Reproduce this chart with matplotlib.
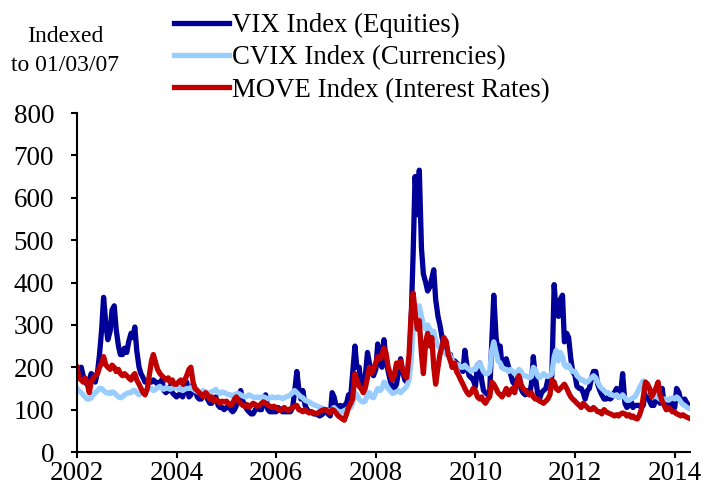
import matplotlib
matplotlib.use("Agg")
import matplotlib.pyplot as plt
import pandas as pd

# Semi-monthly observations, Jan 2002 - Apr 2014 (indexed to 01/03/07 = 100)
dates = pd.date_range("2002-01-01", periods=296, freq="SMS")

vix = [
    180,195, 200,180, 165,160, 170,185, 180,165, 190,230, 290,365, 300,265, 285,335, 345,290, 250,230, 230,245,  # 2002
    235,260, 280,270, 295,240, 200,185, 175,165, 165,165, 165,170, 165,160, 165,170, 145,140, 145,155, 140,135,  # 2003
    130,135, 135,130, 150,165, 130,135, 160,150, 130,125, 125,135, 140,125, 115,115, 125,130, 110,105, 105,100,  # 2004
    105,110, 100,95, 100,110, 125,145, 120,110, 100,95, 90,90, 100,105, 100,100, 115,135, 100,95, 95,95,  # 2005
    95,105, 100,95, 95,95, 95,95, 105,140, 190,150, 125,145, 110,100, 95,95, 90,90, 88,85, 88,92,  # 2006
    97,90, 85,140, 130,110, 105,110, 105,110, 115,135, 130,185, 250,200, 200,160, 150,175, 235,210, 190,180,  # 2007
    195,255, 210,200, 265,220, 190,170, 150,150, 160,190, 220,190, 170,165, 200,300, 470,650, 560,665, 480,420,  # 2008
    400,380, 390,410, 430,360, 320,300, 270,250, 240,230, 230,200, 215,210, 205,200, 190,240, 200,180, 175,170,  # 2009
    155,205, 210,170, 145,140, 135,140, 260,370, 270,240, 250,200, 210,220, 200,185, 165,160, 170,185, 150,140,  # 2010
    135,145, 135,160, 225,180, 140,125, 140,145, 150,170, 150,180, 395,330, 320,360, 370,260, 280,270, 220,190,  # 2011
    180,155, 150,150, 140,125, 145,150, 175,190, 190,160, 145,135, 125,125, 130,125, 130,140, 150,130, 140,185,  # 2012
    115,105, 110,120, 105,110, 110,110, 105,110, 140,160, 120,110, 110,125, 125,115, 150,115, 100,105, 125,110,  # 2013
    105,150, 140,120, 120,125, 115,110,  # 2014
]

cvix = [
    150,145, 140,135, 130,125, 125,128, 135,140, 145,150, 150,145, 140,140, 138,142, 140,135, 130,128, 130,135,  # 2002
    138,140, 140,145, 145,140, 135,138, 140,145, 148,150, 150,145, 148,152, 155,150, 148,152, 150,148, 150,155,  # 2003
    152,148, 150,145, 148,150, 150,152, 148,145, 142,140, 140,145, 142,140, 138,142, 145,148, 140,138, 142,140,  # 2004
    138,135, 135,132, 135,138, 138,135, 132,130, 132,135, 132,130, 128,130, 128,130, 130,128, 125,128, 130,128,  # 2005
    128,130, 128,126, 128,130, 132,135, 140,145, 140,135, 130,128, 122,120, 118,115, 112,110, 108,105, 104,102,  # 2006
    100,98, 95,100, 105,100, 96,94, 95,98, 100,105, 105,115, 140,135, 125,120, 118,120, 135,140, 130,128,  # 2007
    140,150, 145,150, 165,160, 150,145, 138,140, 142,145, 140,145, 150,155, 170,210, 290,345, 330,345, 320,300,  # 2008
    290,300, 290,280, 285,265, 250,245, 240,235, 230,235, 225,215, 210,205, 205,200, 200,205, 198,195, 190,195,  # 2009
    195,205, 210,200, 190,185, 185,190, 240,260, 235,215, 210,200, 195,195, 190,195, 190,185, 185,195, 190,180,  # 2010
    180,178, 175,178, 200,195, 180,175, 180,185, 180,178, 180,185, 225,240, 215,235, 225,205, 200,205, 195,190,  # 2011
    190,180, 175,170, 170,165, 165,170, 175,180, 175,165, 155,150, 145,140, 140,135, 135,132, 135,130, 130,135,  # 2012
    128,122, 122,125, 128,130, 140,150, 160,168, 165,150, 140,135, 130,132, 128,125, 122,125, 125,122, 125,128,  # 2013
    125,130, 125,118, 112,110, 105,103,  # 2014
]

move = [
    200,175, 170,165, 175,165, 140,165, 175,180, 185,200, 210,225, 205,200, 195,205, 200,190, 195,185, 180,185,  # 2002
    180,175, 170,180, 185,170, 160,150, 140,135, 150,180, 215,230, 210,195, 185,180, 175,170, 175,165, 170,160,  # 2003
    160,165, 170,160, 170,180, 195,200, 165,150, 145,140, 135,130, 140,135, 125,130, 120,125, 120,115, 120,118,  # 2004
    120,115, 110,115, 125,130, 120,115, 110,108, 112,105, 110,115, 112,108, 110,115, 118,115, 110,108, 105,108,  # 2005
    105,100, 98,102, 105,100, 98,102, 105,108, 110,100, 98,95, 100,95, 92,95, 93,90, 92,95, 98,100,  # 2006
    100,95, 92,100, 98,92, 85,82, 78,75, 90,105, 115,125, 185,170, 155,150, 140,150, 175,200, 185,195,  # 2007
    210,225, 220,230, 245,235, 200,185, 170,180, 210,200, 215,195, 180,175, 230,320, 375,330, 290,310, 230,185,  # 2008
    260,280, 250,270, 200,160, 200,230, 250,270, 260,230, 215,200, 210,190, 180,170, 160,150, 140,135, 140,150,  # 2009
    145,130, 125,130, 120,115, 125,130, 165,160, 150,140, 135,130, 140,150, 135,145, 150,140, 165,180, 160,150,  # 2010
    145,140, 135,140, 130,125, 125,120, 118,115, 120,125, 135,170, 165,150, 145,150, 155,160, 150,140, 130,125,  # 2011
    120,115, 110,105, 115,110, 105,100, 100,105, 100,95, 95,90, 100,95, 92,90, 88,85, 88,85, 90,92,  # 2012
    90,85, 88,82, 85,80, 78,85, 100,130, 165,160, 150,130, 140,150, 165,135, 120,110, 100,105, 100,95,  # 2013
    95,90, 88,85, 88,85, 82,80,  # 2014
]

labels = ["VIX Index (Equities)", "CVIX Index (Currencies)", "MOVE Index (Interest Rates)"]
colors = ["#000099", "#99CCFF", "#C00000"]
yticks = list(range(0, 801, 100))
xtick_years = [2002, 2004, 2006, 2008, 2010, 2012, 2014]

plt.rcParams["font.family"] = ["Liberation Serif", "DejaVu Serif"]

fig = plt.figure(figsize=(7.14, 4.93), dpi=100)
ax = fig.add_axes([77/714, 1-452/493, (690-77)/714, (452-113)/493])

handles = []
for series, lab, col in zip([vix, cvix, move], labels, colors):
    h, = ax.plot(dates, series, color=col, lw=3.8, label=lab, solid_joinstyle="round")
    handles.append(h)

ax.set_ylim(0, 800)
ax.set_yticks(yticks)
ax.set_xlim(pd.Timestamp("2002-01-01"), pd.Timestamp("2014-04-23"))
ax.set_xticks([pd.Timestamp(f"{y}-01-01") for y in xtick_years])
ax.set_xticklabels([str(y) for y in xtick_years])

for s in ["top", "right"]:
    ax.spines[s].set_visible(False)
for s in ["left", "bottom"]:
    ax.spines[s].set_color("black")
    ax.spines[s].set_linewidth(1.5)
ax.tick_params(axis="both", direction="out", length=4.5, width=1.5, labelsize=19.5, colors="black")
ax.tick_params(axis="x", pad=2)
ax.tick_params(axis="y", pad=12)

fig.legend(handles=handles, labels=labels, loc="upper left",
           bbox_to_anchor=(174/714, 1-13/493), frameon=False, fontsize=19.3,
           handlelength=2.05, handletextpad=0.12, labelspacing=0.27,
           borderpad=0, borderaxespad=0)

fig.text(65/714, 1-51/493, "Indexed\nto 01/03/07", ha="center", va="center",
         fontsize=17, linespacing=1.45)

fig.savefig("out.png", dpi=100)
